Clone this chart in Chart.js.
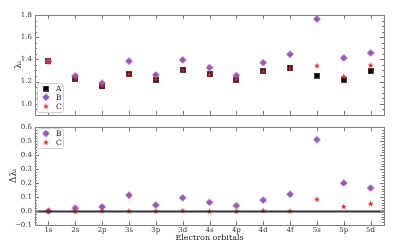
<!DOCTYPE html>
<html>
<head>
<meta charset="utf-8">
<script src="https://cdn.jsdelivr.net/npm/chart.js@4.4.0/dist/chart.umd.min.js"></script>
<style>
  body { margin: 0; background: #fff; }
  #wrap { position: relative; width: 419px; height: 243px; }
  .panel { position: absolute; left: 0; width: 419px; }
</style>
</head>
<body>
<div id="wrap">
  <div class="panel" style="top:0;height:122px"><canvas id="topChart"></canvas></div>
  <div class="panel" style="top:120px;height:123px"><canvas id="bottomChart"></canvas></div>
</div>
<script>
// orbitals on x
const orbitals = ['1s','2s','2p','3s','3p','3d','4s','4p','4d','4f','5s','5p','5d']

// top panel: lambda_i
const lambdaA = [1.383,1.227,1.156,1.270,1.216,1.306,1.266,1.218,1.293,1.323,1.254,1.212,1.293]
const lambdaB = [1.383,1.252,1.185,1.383,1.260,1.395,1.326,1.254,1.371,1.446,1.764,1.413,1.458]
const lambdaC = [1.383,1.227,1.160,1.270,1.220,1.305,1.266,1.220,1.293,1.323,1.342,1.245,1.347]

// bottom panel: delta lambda_i
const deltaB = [0.0,0.020,0.030,0.113,0.043,0.095,0.062,0.039,0.078,0.120,0.511,0.200,0.165]
const deltaC = [0.0,-0.002,0.002,0.0,0.0,0.003,-0.002,-0.001,0.003,0.0,0.085,0.032,0.053]

const topTicks = [1.0,1.2,1.4,1.6,1.8]
const bottomTicks = [-0.1,0.0,0.1,0.2,0.3,0.4,0.5,0.6]

const purple = '#9b59b6'
const red = '#f02020'
const serif = "'DejaVu Serif', serif"

// marker images
function makeSquare(){
    const c = document.createElement('canvas'); c.width = 6; c.height = 6
    const x = c.getContext('2d')
    x.fillStyle = '#000'; x.fillRect(0.5,0.5,5,5)
    x.strokeStyle = '#444'; x.lineWidth = 1; x.strokeRect(0.5,0.5,5,5)
    return c
}
function makeDiamond(){
    const c = document.createElement('canvas'); c.width = 8; c.height = 8
    const x = c.getContext('2d')
    x.fillStyle = purple
    x.beginPath(); x.moveTo(4,0.2); x.lineTo(7.8,4); x.lineTo(4,7.8); x.lineTo(0.2,4); x.closePath(); x.fill()
    return c
}
function makeStar(){
    const c = document.createElement('canvas'); c.width = 7; c.height = 7
    const x = c.getContext('2d')
    x.fillStyle = red
    x.beginPath()
    for(let i=0;i<10;i++){
        const r = i%2==0 ? 3.2 : 1.3
        const a = -Math.PI/2 + i*Math.PI/5
        const px = 3.5 + r*Math.cos(a), py = 3.7 + r*Math.sin(a)
        if(i==0) x.moveTo(px,py); else x.lineTo(px,py)
    }
    x.closePath(); x.fill()
    return c
}
const sq = makeSquare(), dia = makeDiamond(), star = makeStar()

// frame, inward ticks, legend, zero line
const decor = {
    id: 'decor',
    afterDatasetsDraw(chart, args, opts){
        const ctx = chart.ctx, a = chart.chartArea
        const y = chart.scales.y, x = chart.scales.x
        ctx.save()
        if(opts.zeroLine){
            const zy = Math.round(y.getPixelForValue(0)) + 0.5
            ctx.strokeStyle = '#333'; ctx.lineWidth = 2
            ctx.beginPath(); ctx.moveTo(a.left, zy); ctx.lineTo(a.right, zy); ctx.stroke()
        }
        ctx.strokeStyle = '#777'; ctx.lineWidth = 1
        ctx.beginPath()
        // major y ticks
        opts.ticks.forEach(v => {
            const p = Math.round(y.getPixelForValue(v)) + 0.5
            ctx.moveTo(a.left, p); ctx.lineTo(a.left+4, p)
            ctx.moveTo(a.right, p); ctx.lineTo(a.right-4, p)
        })
        // minor y ticks
        const lo = y.min, hi = y.max
        for(let v = Math.ceil(lo/opts.minor)*opts.minor; v <= hi+1e-9; v += opts.minor){
            const p = Math.round(y.getPixelForValue(v)) + 0.5
            ctx.moveTo(a.left, p); ctx.lineTo(a.left+2, p)
            ctx.moveTo(a.right, p); ctx.lineTo(a.right-2, p)
        }
        // x ticks
        orbitals.forEach((o,i) => {
            const p = Math.round(x.getPixelForValue(i)) + 0.5
            ctx.moveTo(p, a.bottom); ctx.lineTo(p, a.bottom-4)
            ctx.moveTo(p, a.top); ctx.lineTo(p, a.top+4)
        })
        ctx.stroke()
        ctx.strokeStyle = '#808080'
        ctx.strokeRect(Math.round(a.left)+0.5, Math.round(a.top)+0.5, Math.round(a.right-a.left), Math.round(a.bottom-a.top))

        // legend
        const L = opts.legend
        ctx.fillStyle = 'rgba(255,255,255,0.9)'
        ctx.strokeStyle = '#d0d0d0'
        ctx.beginPath()
        ctx.roundRect(L.x+0.5, L.y+0.5, L.w, L.h, 2)
        ctx.fill(); ctx.stroke()
        ctx.font = '7.5px ' + serif
        ctx.fillStyle = '#222'
        ctx.textBaseline = 'middle'
        L.items.forEach((it, i) => {
            const cy = L.y + L.first + i*L.gap
            ctx.drawImage(it.img, L.x + 9 - it.img.width/2, cy - it.img.height/2)
            ctx.fillText(it.label, L.x + 19, cy + 0.5)
        })
        ctx.restore()
    }
}

function yTickCallback(v){
    const s = Math.abs(v).toFixed(1)
    return v < -1e-9 ? '\u2212' + s : s
}

const topChart = new Chart(document.getElementById('topChart'), {
    type: 'line',
    data: {
        labels: orbitals,
        datasets: [
            { label: 'A', data: lambdaA, showLine: false, pointStyle: sq, order: 3 },
            { label: 'B', data: lambdaB, showLine: false, pointStyle: dia, order: 2 },
            { label: 'C', data: lambdaC, showLine: false, pointStyle: star, order: 1 }
        ]
    },
    options: {
        animation: false,
        responsive: true,
        maintainAspectRatio: false,
        layout: { padding: { top: 15, right: 35, left: 0, bottom: 0 } },
        plugins: {
            legend: { display: false },
            tooltip: { enabled: false },
            decor: {
                ticks: topTicks, minor: 0.05,
                legend: { x: 37, y: 83, w: 26, h: 29, first: 5.5, gap: 8.8,
                    items: [ { img: sq, label: 'A' }, { img: dia, label: 'B' }, { img: star, label: 'C' } ] }
            }
        },
        scales: {
            x: {
                offset: true,
                grid: { display: false, drawTicks: false },
                border: { display: false },
                ticks: { display: false },
                afterFit: s => { s.height = 7 }
            },
            y: {
                min: 0.9, max: 1.8,
                grid: { display: false, drawTicks: false },
                border: { display: false },
                afterBuildTicks: s => { s.ticks = topTicks.map(v => ({ value: v })) },
                ticks: { callback: yTickCallback, font: { family: serif, size: 7 }, color: '#333', padding: 3 },
                title: { display: true, text: 'λᵢ', font: { family: serif, size: 9 }, color: '#222', padding: { top: 13, bottom: 2 } },
                afterFit: s => { s.width = 35 }
            }
        }
    },
    plugins: [decor]
})

const bottomChart = new Chart(document.getElementById('bottomChart'), {
    type: 'line',
    data: {
        labels: orbitals,
        datasets: [
            { label: 'B', data: deltaB, showLine: false, pointStyle: dia, order: 2 },
            { label: 'C', data: deltaC, showLine: false, pointStyle: star, order: 1 }
        ]
    },
    options: {
        animation: false,
        responsive: true,
        maintainAspectRatio: false,
        layout: { padding: { top: 5, right: 35, left: 0, bottom: 0 } },
        plugins: {
            legend: { display: false },
            tooltip: { enabled: false },
            decor: {
                ticks: bottomTicks, minor: 0.02, zeroLine: true,
                legend: { x: 37, y: 8, w: 26, h: 20, first: 5.5, gap: 8.8,
                    items: [ { img: dia, label: 'B' }, { img: star, label: 'C' } ] }
            }
        },
        scales: {
            x: {
                offset: true,
                grid: { display: false, drawTicks: false },
                border: { display: false },
                ticks: { font: { family: serif, size: 7 }, color: '#333', padding: 1, maxRotation: 0, autoSkip: false },
                title: { display: true, text: 'Electron orbitals', font: { family: serif, size: 8 }, color: '#222', padding: { top: 0, bottom: 0 } },
                afterFit: s => { s.height = 18 }
            },
            y: {
                min: -0.1, max: 0.6,
                grid: { display: false, drawTicks: false },
                border: { display: false },
                afterBuildTicks: s => { s.ticks = bottomTicks.map(v => ({ value: v })) },
                ticks: { callback: yTickCallback, font: { family: serif, size: 7 }, color: '#333', padding: 3 },
                title: { display: true, text: 'Δλᵢ', font: { family: serif, size: 9 }, color: '#222', padding: { top: 8, bottom: 2 } },
                afterFit: s => { s.width = 35 }
            }
        }
    },
    plugins: [decor]
})
</script>
</body>
</html>
